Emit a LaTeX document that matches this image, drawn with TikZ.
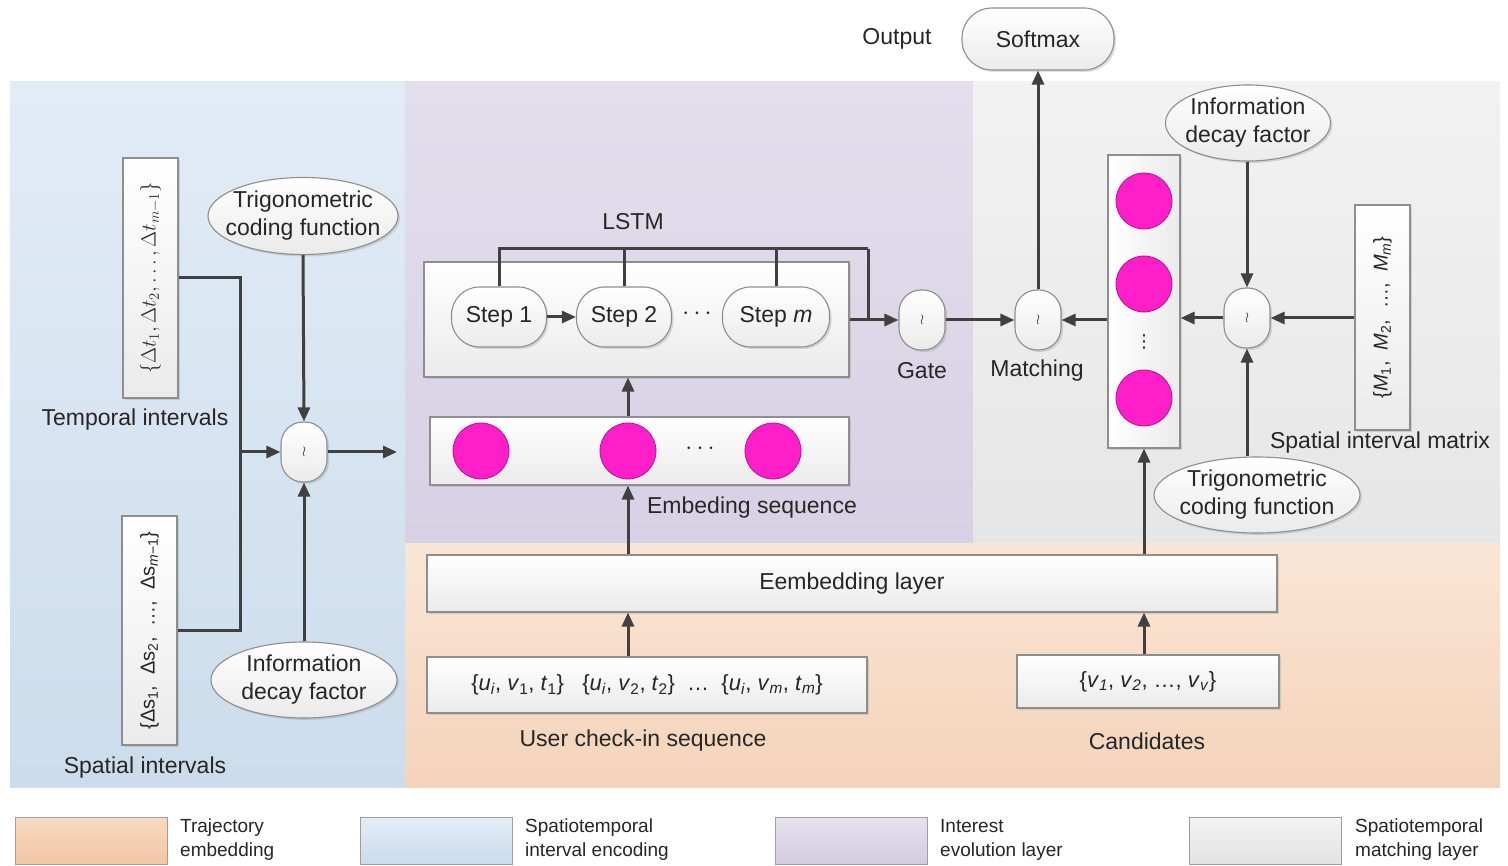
\documentclass[tikz,border=0pt]{standalone}
\usepackage{fontspec}
\setmainfont{Liberation Sans}
\newfontfamily\dejavu{DejaVu Sans}
\usepackage{graphicx}
\usetikzlibrary{arrows.meta,shapes.geometric,shadows,calc}
\definecolor{bluetop}{HTML}{E2ECF6}
\definecolor{bluebot}{HTML}{CCDCEC}
\definecolor{purptop}{HTML}{E3DEEC}
\definecolor{purpbot}{HTML}{D8D0E4}
\definecolor{graytop}{HTML}{F2F2F2}
\definecolor{graybot}{HTML}{E6E6E6}
\definecolor{orgtop}{HTML}{FAE6D6}
\definecolor{orgbot}{HTML}{F4D3BA}
\definecolor{lorgtop}{HTML}{F7DAC3}
\definecolor{lorgbot}{HTML}{F1C6A3}
\definecolor{lbluetop}{HTML}{E4EDF6}
\definecolor{lbluebot}{HTML}{CADBEB}
\definecolor{lpurptop}{HTML}{E6E1EE}
\definecolor{lpurpbot}{HTML}{D4CBE0}
\definecolor{lgraytop}{HTML}{F4F4F4}
\definecolor{lgraybot}{HTML}{E2E2E2}
\definecolor{arrowgray}{HTML}{404040}
\definecolor{edgegray}{HTML}{8E8E8E}
\definecolor{magent}{HTML}{FF1FC8}
\definecolor{magedge}{HTML}{B81090}
\begin{document}
\begin{tikzpicture}[x=1pt,y=-1pt,
  every node/.style={font=\fontsize{23}{28}\selectfont, text=black!85},
  boxn/.style={draw=edgegray, line width=1.1pt, top color=white, bottom color=black!8,
     drop shadow={opacity=0.25, shadow xshift=2pt, shadow yshift=-2pt}, inner sep=0pt},
  ell/.style={ellipse, boxn, align=center, inner xsep=-16pt, inner ysep=-8pt},
  pill/.style={boxn, rounded corners=28pt, minimum height=60pt},
  op/.style={boxn, rounded corners=22pt, minimum width=46pt, minimum height=60pt,
     font=\fontsize{15}{15}\selectfont},
  ball/.style={circle, fill=magent, draw=magedge, line width=0.8pt, minimum size=56pt, inner sep=0pt},
  ln/.style={draw=arrowgray, line width=3pt},
  arr/.style={ln, -{Triangle[length=14pt,width=12pt]}},
  lab/.style={inner sep=0pt},
  legbox/.style={draw=black!38, line width=1pt, minimum width=152pt, minimum height=47pt, inner sep=0pt},
  legtext/.style={anchor=west, align=left, font=\fontsize{19}{24}\selectfont, inner sep=0pt}
]
\useasboundingbox (0,0) rectangle (1508,866);
\fill[white] (0,0) rectangle (1508,866);
% panels
\fill[top color=bluetop, bottom color=bluebot] (10,82) rectangle (405,787);
\fill[top color=purptop, bottom color=purpbot] (405,82) rectangle (973,543);
\fill[top color=graytop, bottom color=graybot] (973,82) rectangle (1500,543);
\fill[top color=orgtop, bottom color=orgbot] (405,543) rectangle (1500,787);

% ---------- left panel ----------
\node[boxn, minimum width=55pt, minimum height=240pt] (tbox) at (150.5,278)
  {\rotatebox{90}{\fontsize{20.5}{20}\selectfont$\{\Delta t_1, \Delta t_2, \ldots, \Delta t_{m-1}\}$}};
\node[boxn, minimum width=55pt, minimum height=229pt] (sbox) at (149.5,630.5)
  {\rotatebox{90}{\fontsize{20}{20}\selectfont\{Δs\textsubscript{1}, \ Δs\textsubscript{2}, \ …, \ Δs\textsubscript{\textit{m}−1}\}}};
\node[lab] (tlab) at (135,420) {Temporal intervals};
\node[lab] (slab) at (145,768) {Spatial intervals};
\node[ell, minimum width=190pt, minimum height=77pt] (trigL) at (303,216) {Trigonometric\\coding function};
\node[ell, minimum width=186pt, minimum height=76pt] (decayL) at (304,680) {Information\\decay factor};
\node[op] (opL) at (304,452) {$\wr$};
\coordinate (jl) at (240,452);
\coordinate (outL) at (397,452);
\draw[ln] (tbox.east) -| (jl);
\draw[ln] (sbox.east) -| (jl);
\draw[arr] (jl) -- (opL.west);
\draw[arr] (trigL.south) -- (opL.north);
\draw[arr] (decayL.north) -- (opL.south);
\draw[arr] (opL.east) -- (outL);

% ---------- purple panel ----------
\node[lab] (lstmlab) at (633,222) {LSTM};
\node[boxn, minimum width=425pt, minimum height=115pt] (lstm) at (636.5,319.5) {};
\node[pill, minimum width=95pt] (s1) at (499,317) {Step 1};
\node[pill, minimum width=95pt] (s2) at (624,317) {Step 2};
\node[lab] (sdots) at (697,314) {$\cdots$};
\node[pill, minimum width=107pt] (sm) at (776,317) {Step \textit{m}};
\draw[arr] (s1.east) -- (s2.west);
\node[boxn, minimum width=419pt, minimum height=68pt] (embseq) at (639.5,451) {};
\node[ball] (c1) at (481,451) {};
\node[ball] (c2) at (628,451) {};
\node[lab] (cdots) at (700,449) {$\cdots$};
\node[ball] (c3) at (773,451) {};
\node[lab] (emblab) at (752,508) {Embeding sequence};
\node[op] (gate) at (922,320) {$\wr$};
\node[lab] (gatelab) at (922,371) {Gate};
\coordinate (jt) at (868,249);
\draw[ln] (s1.north) |- (jt);
\draw[ln] (s2.north) -- (s2.north |- jt);
\draw[ln] (sm.north) -- (sm.north |- jt);
\draw[ln] (jt) -- (jt |- gate.west);
\draw[arr] (lstm.east |- gate.west) -- (gate.west);
\draw[arr] (c2 |- embseq.north) -- (c2 |- lstm.south);

% ---------- gray panel ----------
\node[lab] (outlab) at (897,39) {Output};
\node[boxn, rounded corners=30pt, minimum width=152pt, minimum height=62pt] (soft) at (1038,39) {Softmax};
\node[op] (match) at (1038,320) {$\wr$};
\node[lab] (matchlab) at (1037,371) {Matching};
\node[boxn, minimum width=72pt, minimum height=293pt, left color=white, right color=black!8] (candbox) at (1144,301.5) {};
\node[ball] (k1) at (1144,201) {};
\node[ball] (k2) at (1144,284) {};
\node[lab, font=\dejavu\fontsize{18}{18}\selectfont] (kdots) at (1144,342) {⋮};
\node[ball] (k3) at (1144,398) {};
\node[op] (opR) at (1247,318) {$\wr$};
\node[ell, minimum width=165pt, minimum height=76pt] (decayR) at (1248,123) {Information\\decay factor};
\node[ell, minimum width=206pt, minimum height=76pt] (trigR) at (1257,495) {Trigonometric\\coding function};
\node[boxn, minimum width=55pt, minimum height=225pt] (mbox) at (1382.5,317.5)
  {\rotatebox{90}{\fontsize{20}{20}\selectfont\{\textit{M}\textsubscript{1}, \ \textit{M}\textsubscript{2}, \ …, \ \textit{M}\textsubscript{\textit{m}}\}}};
\node[lab] (mlab) at (1380,443) {Spatial interval matrix};
\draw[arr] (gate.east) -- (match.west);
\draw[arr] (candbox.west |- match.east) -- (match.east);
\draw[arr] (match.north) -- (soft.south);
\draw[arr] (opR.west) -- (opR.west -| candbox.east);
\draw[arr] (mbox.west |- opR.east) -- (opR.east);
\draw[arr] (opR.north |- decayR.south) -- (opR.north);
\draw[arr] (opR.south |- trigR.north) -- (opR.south);

% ---------- orange panel ----------
\node[boxn, minimum width=850pt, minimum height=57pt] (elayer) at (852,583.5) {Eembedding layer};
\node[boxn, minimum width=440pt, minimum height=56pt, font=\fontsize{22}{27}\selectfont] (checkin) at (647,685)
  {\{\textit{u}\textsubscript{\textit{i}}, \textit{v}\textsubscript{1}, \textit{t}\textsubscript{1}\} \ \ \{\textit{u}\textsubscript{\textit{i}}, \textit{v}\textsubscript{2}, \textit{t}\textsubscript{2}\} \ … \ \{\textit{u}\textsubscript{\textit{i}}, \textit{v}\textsubscript{\textit{m}}, \textit{t}\textsubscript{\textit{m}}\}};
\node[lab] (checklab) at (643,741) {User check-in sequence};
\node[boxn, minimum width=262pt, minimum height=53pt, font=\fontsize{22}{27}\selectfont] (cand) at (1148,681.5)
  {\{\textit{v}\textsubscript{\textit{1}}, \textit{v}\textsubscript{\textit{2}}, …, \textit{v}\textsubscript{\textit{v}}\}};
\node[lab] (candlab) at (1147,741) {Candidates};
\draw[arr] (c2 |- elayer.north) -- (c2 |- embseq.south);
\draw[arr] (c2 |- checkin.north) -- (c2 |- elayer.south);
\draw[arr] (candbox.south |- cand.north) -- (candbox.south |- elayer.south);
\draw[arr] (candbox.south |- elayer.north) -- (candbox.south);

% ---------- legend ----------
\node[legbox, top color=lorgtop, bottom color=lorgbot] (lg1) at (91,840.5) {};
\node[legtext] (lt1) at (180,840) {Trajectory\\embedding};
\node[legbox, top color=lbluetop, bottom color=lbluebot] (lg2) at (436,840.5) {};
\node[legtext] (lt2) at (525,840) {Spatiotemporal\\interval encoding};
\node[legbox, top color=lpurptop, bottom color=lpurpbot] (lg3) at (851,840.5) {};
\node[legtext] (lt3) at (940,840) {Interest\\evolution layer};
\node[legbox, top color=lgraytop, bottom color=lgraybot] (lg4) at (1265,840.5) {};
\node[legtext] (lt4) at (1355,840) {Spatiotemporal\\matching layer};
\end{tikzpicture}
\end{document}
